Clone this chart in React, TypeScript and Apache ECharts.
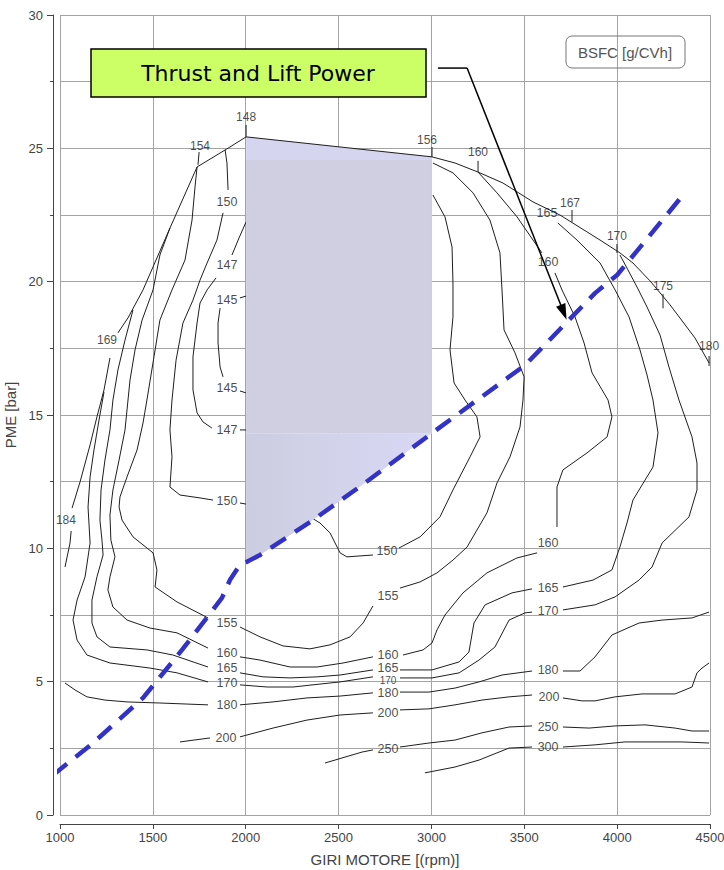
import React, { useEffect, useRef } from "react";
import * as echarts from "echarts";

// ---------- DATA (rpm, PME bar) ----------
// full-load envelope (split where point labels sit)
const envelope = [
  [[1027, 9.3], [1054, 10.2], [1060, 10.65]],
  [[1065, 11.51], [1108, 12.49], [1162, 13.88], [1199, 14.93], [1237, 15.94], [1269, 17.14]],
  [[1312, 18.08], [1366, 18.64], [1447, 19.69], [1592, 22.01], [1738, 24.3], [1899, 24.98], [2002, 25.43],
   [3003, 24.68], [3127, 24.45], [3251, 24.11], [3385, 23.7], [3547, 22.99], [3692, 22.5], [3908, 21.56],
   [4015, 21.08], [4085, 20.7], [4177, 20.03], [4285, 19.13], [4419, 17.89], [4495, 16.95]],
];
const fullLoadText = ["184", "169", "154", "148", "156", "160", "167", "170", "175", "180"];
const fullLoadPos = [[1032, 11.06], [1253, 17.81], [1754, 25.09], [2002, 26.18], [2976, 25.31], [3251, 24.86],
  [3746, 22.95], [3999, 21.71], [4247, 19.84], [4495, 17.59]];
const fullLoadTicks = [
  [[1743, 24.38], [1749, 24.86]], [[2002, 25.43], [2002, 25.88]], [[3003, 24.68], [3003, 25.05]],
  [[3251, 24.11], [3251, 24.53]], [[3757, 22.24], [3757, 22.69]], [[3999, 21.08], [3999, 21.41]],
  [[4247, 19.0], [4247, 19.54]], [[4495, 16.84], [4495, 17.21]],
];

const iso145 = [
  [[1969, 19.39], [2002, 19.46]],
  [[1862, 19.01], [1851, 18.45], [1851, 17.7], [1862, 16.8], [1878, 16.43]],
  [[1969, 15.9], [2002, 15.83]],
];
const lbl145 = [[1899, 19.31], [1899, 16.01]];

const iso147 = [
  [[1926, 21.0], [1964, 21.64], [2002, 22.24]],
  [[1840, 20.14], [1792, 19.69], [1754, 19.2], [1738, 18.45], [1716, 17.18], [1716, 15.94], [1738, 15.08], [1770, 14.74], [1818, 14.51]],
  [[1969, 14.44], [2002, 14.44]],
];
const lbl147 = [[1899, 20.63], [1899, 14.44]];

const iso150 = [
  [[1889, 24.94], [1899, 24.45], [1905, 23.44]],
  [[1878, 22.58], [1845, 21.56], [1792, 20.7], [1754, 20.06], [1716, 19.31], [1662, 18.45], [1625, 17.06], [1603, 15.56],
   [1592, 14.44], [1603, 13.43], [1592, 12.3], [1646, 12.0], [1754, 11.89], [1824, 11.81]],
  [[1969, 11.7], [2002, 11.66]],
  [[2346, 11.18], [2400, 10.95], [2454, 10.58], [2508, 9.83], [2545, 9.68], [2685, 9.75]],
  [[2825, 10.01], [2939, 10.43], [3046, 11.18], [3116, 12.19], [3208, 13.43], [3262, 14.18], [3245, 14.93], [3181, 15.56],
   [3122, 16.2], [3100, 17.44], [3116, 18.68], [3116, 19.95], [3111, 21.3], [3073, 22.43], [3008, 23.25]],
];
const lbl150 = [[1899, 22.99], [1899, 11.78], [2761, 9.9]];

const iso155 = [
  [[1738, 24.3], [1727, 23.55], [1711, 22.31], [1673, 20.81], [1603, 19.69], [1538, 18.56], [1506, 17.18], [1468, 15.56],
   [1447, 14.7], [1415, 13.69], [1361, 12.68], [1323, 11.93], [1318, 11.55], [1334, 11.06], [1393, 10.43], [1501, 9.83],
   [1522, 9.19], [1512, 8.55], [1630, 7.99], [1797, 7.39]],
  [[1969, 7.05], [2077, 6.68], [2201, 6.34], [2346, 6.23], [2454, 6.38], [2562, 6.68], [2632, 7.2], [2685, 7.84]],
  [[2831, 8.51], [2939, 8.74], [3030, 9.08], [3116, 9.56], [3192, 10.05], [3299, 11.33], [3353, 12.45], [3423, 13.43],
   [3477, 14.55], [3493, 15.56], [3499, 16.43], [3450, 17.33], [3391, 18.19], [3380, 19.69], [3369, 21.08], [3315, 22.31],
   [3224, 23.33], [3116, 24.08], [3008, 24.45]],
];
const lbl155 = [[1899, 7.2], [2766, 8.21]];

const iso160 = [
  [[1592, 22.01], [1538, 21.0], [1501, 19.69], [1442, 18.56], [1404, 17.44], [1377, 16.31], [1350, 14.44], [1318, 13.31],
   [1285, 12.19], [1269, 11.25], [1274, 10.31], [1296, 9.68], [1269, 8.93], [1258, 8.44], [1285, 7.8], [1361, 7.31],
   [1485, 7.01], [1630, 6.83], [1797, 6.26]],
  [[1969, 5.93], [2077, 5.81], [2239, 5.55], [2384, 5.55], [2524, 5.7], [2685, 5.93]],
  [[2847, 6.0], [2955, 6.19], [3003, 6.45], [3030, 6.94], [3073, 7.5], [3170, 8.33], [3299, 9.08], [3461, 9.64], [3569, 9.83]],
  [[3676, 10.8], [3676, 12.3], [3708, 12.94], [3838, 13.58], [3946, 14.18], [3972, 14.93], [3951, 15.56], [3919, 15.94],
   [3865, 16.58], [3822, 17.7], [3773, 18.68], [3703, 19.69], [3665, 20.33]],
  [[3595, 21.08], [3547, 21.56], [3461, 22.43], [3353, 23.33], [3251, 24.11]],
];
const lbl160 = [[1899, 6.08], [2766, 6.0], [3628, 10.2], [3628, 20.74]];

const iso165 = [
  [[1393, 18.94], [1350, 17.81], [1312, 16.69], [1285, 15.56], [1269, 14.44], [1242, 13.31], [1221, 12.19], [1215, 11.06],
   [1226, 10.31], [1232, 9.75], [1199, 8.93], [1172, 8.06], [1172, 7.2], [1199, 6.68], [1269, 6.3], [1468, 6.19],
   [1608, 6.0], [1797, 5.55]],
  [[1969, 5.33], [2093, 5.18], [2239, 5.14], [2384, 5.18], [2508, 5.25], [2685, 5.44]],
  [[2831, 5.44], [3003, 5.44], [3149, 5.74], [3202, 6.11], [3229, 7.2], [3289, 7.88], [3434, 8.33], [3542, 8.48]],
  [[3708, 8.55], [3870, 8.81], [3972, 9.19], [4015, 10.05], [4053, 10.95], [4085, 11.81], [4193, 13.05], [4220, 14.33],
   [4193, 15.56], [4161, 16.5], [4123, 17.44], [4064, 18.68], [3989, 19.69], [3908, 20.7], [3784, 21.56], [3681, 22.2]],
];
const lbl165 = [[1899, 5.51], [2766, 5.51], [3628, 8.51], [3622, 22.58]];

const iso170 = [
  [[1237, 15.86], [1210, 14.81], [1183, 13.69], [1162, 12.68], [1151, 11.55], [1162, 10.2], [1135, 8.93], [1092, 8.06],
   [1070, 7.31], [1092, 6.56], [1145, 6.0], [1269, 5.7], [1485, 5.51], [1630, 5.33], [1797, 4.99]],
  [[1969, 4.88], [2115, 4.8], [2255, 4.8], [2400, 4.91], [2508, 4.99], [2685, 5.18]],
  [[2831, 5.14], [3003, 5.14], [3149, 5.33], [3256, 5.81], [3342, 6.3], [3418, 7.31], [3504, 7.58], [3542, 7.61]],
  [[3708, 7.69], [3881, 7.88], [3989, 8.18], [4118, 8.81], [4188, 9.3], [4242, 10.2], [4387, 11.18], [4430, 12.19],
   [4430, 13.2], [4403, 14.18], [4333, 15.56], [4279, 16.8], [4231, 18.0], [4161, 19.05], [4107, 19.8], [4053, 20.51], [4015, 21.0]],
];
const lbl170 = [[1899, 4.95], [2766, 5.05], [3628, 7.65]];

const iso180 = [
  [[1027, 4.95], [1081, 4.69], [1145, 4.43], [1242, 4.31], [1361, 4.24], [1538, 4.2], [1797, 4.13]],
  [[1969, 4.13], [2147, 4.24], [2330, 4.39], [2508, 4.46], [2685, 4.58]],
  [[2831, 4.61], [2987, 4.61], [3127, 4.76], [3256, 4.99], [3380, 5.25], [3542, 5.4]],
  [[3708, 5.4], [3800, 5.4], [3881, 5.93], [3972, 6.75], [4118, 7.2], [4242, 7.31], [4403, 7.39], [4495, 7.61]],
];
const lbl180 = [[1899, 4.13], [2766, 4.58], [3628, 5.44]];

const iso200 = [
  [[1646, 2.74], [1808, 2.89]],
  [[1969, 2.93], [2147, 3.26], [2330, 3.56], [2508, 3.75], [2685, 3.83]],
  [[2831, 3.94], [2987, 3.98], [3127, 4.13], [3272, 4.31], [3418, 4.43], [3542, 4.5]],
  [[3708, 4.39], [3811, 4.28], [3881, 4.28], [3989, 4.43], [4134, 4.54], [4312, 4.54], [4403, 4.8], [4430, 5.33], [4457, 5.51], [4495, 5.7]],
];
const lbl200 = [[1894, 2.89], [2766, 3.83], [3633, 4.43]];

const iso250 = [
  [[2427, 1.95], [2626, 2.36], [2685, 2.44]],
  [[2831, 2.55], [2987, 2.7], [3127, 2.81], [3272, 3.08], [3418, 3.3], [3542, 3.34]],
  [[3708, 3.3], [3849, 3.26], [3989, 3.34], [4150, 3.38], [4312, 3.26], [4403, 3.15], [4495, 3.15]],
];
const lbl250 = [[2766, 2.48], [3628, 3.3]];

const iso300 = [
  [[2965, 1.58], [3127, 1.8], [3256, 2.06], [3418, 2.51], [3542, 2.55]],
  [[3708, 2.55], [3881, 2.63], [4042, 2.74], [4349, 2.74], [4495, 2.7]],
];
const lbl300 = [[3628, 2.55]];

// propeller / operating line (dashed)
const propeller = [[962, 1.5], [1178, 2.7], [1447, 4.39], [1657, 6.19], [1872, 8.14], [1915, 8.81], [1969, 9.38],
  [2002, 9.48], [2077, 9.75], [2362, 11.06], [2626, 12.37], [3003, 14.32], [3504, 16.87], [3881, 19.57], [4000, 20.25], [4355, 23.25]];

// shaded "Thrust and Lift Power" zone
const shadeTop = [[2002, 25.43], [3003, 24.68], [3003, 24.56], [2002, 24.56]];
const shadeMid = [[2002, 24.56], [3003, 24.56], [3003, 14.32], [2002, 14.32]];
const shadeLow = [[2002, 14.32], [3003, 14.32], [2626, 12.37], [2362, 11.06], [2077, 9.75], [2002, 9.48]];

// annotation leader
const leader = [[3035, 28.01], [3192, 28.01]];
const arrowEnd = [3712, 18.85];

const contours: [string, number[][][], number[][]][] = [
  ["145", iso145, lbl145], ["147", iso147, lbl147], ["150", iso150, lbl150], ["155", iso155, lbl155],
  ["160", iso160, lbl160], ["165", iso165, lbl165], ["170", iso170, lbl170], ["180", iso180, lbl180],
  ["200", iso200, lbl200], ["250", iso250, lbl250], ["300", iso300, lbl300],
];

const FONT = "Liberation Sans";

export default function App() {
  const ref = useRef<HTMLDivElement>(null);
  useEffect(() => {
    document.body.style.margin = "0";
    const chart = echarts.init(ref.current!, null, { renderer: "svg" });
    const series: any[] = [];
    const lineStyleC = { color: "#1e1e1e", width: 1 };
    const addSeg = (seg: number[][], z: number, ls: any) =>
      series.push({ type: "line", data: seg, symbol: "none", silent: true, z, clip: false, lineStyle: ls });

    // shading
    series.push({
      type: "custom",
      z: 3,
      silent: true,
      data: [[2500, 20]],
      renderItem: (_p: any, api: any) => {
        const pts = (arr: number[][]) => arr.map((p) => api.coord(p));
        return {
          type: "group",
          children: [
            {
              type: "polygon",
              shape: { points: pts(shadeLow) },
              style: {
                fill: new echarts.graphic.LinearGradient(0, 0, 1, 0, [
                  { offset: 0, color: "#cdcde0" },
                  { offset: 1, color: "#d8d8f6" },
                ]),
              },
            },
            { type: "polygon", shape: { points: pts(shadeMid) }, style: { fill: "#cfcfe1" } },
            { type: "polygon", shape: { points: pts(shadeTop) }, style: { fill: "#d5d5f0" } },
          ],
        };
      },
    });

    const labelData: any[] = [];
    contours.forEach(([name, segs, lbls]) => {
      segs.forEach((s) => addSeg(s, 2, lineStyleC));
      lbls.forEach((p) => {
        // the middle-column 170 label is squeezed between the 165 and 180 lines
        const squeezed = name === "170" && p[0] === 2766;
        labelData.push(squeezed
          ? { value: p, name, label: { fontSize: 10, lineHeight: 10 } }
          : { value: p, name });
      });
    });
    envelope.forEach((s) => addSeg(s, 4, lineStyleC));
    fullLoadTicks.forEach((s) => addSeg(s, 4, lineStyleC));

    const lblStyle = {
      show: true, position: "inside", formatter: "{b}", color: "#1a1a1a", fontFamily: FONT,
      textBorderWidth: 0, textBorderColor: "transparent", textShadowBlur: 0,
    };
    series.push({
      type: "scatter",
      z: 6,
      silent: true,
      symbolSize: 1,
      itemStyle: { color: "rgba(255,255,255,0)" },
      data: labelData,
      label: { ...lblStyle, fontSize: 12.5, lineHeight: 12 },
    });
    series.push({
      type: "scatter",
      z: 6,
      silent: true,
      symbolSize: 1,
      itemStyle: { color: "rgba(255,255,255,0)" },
      data: fullLoadPos.map((p, i) => ({ value: p, name: fullLoadText[i] })),
      label: { ...lblStyle, fontSize: 12, lineHeight: 12 },
    });

    // dashed operating line
    series.push({
      type: "line",
      data: propeller,
      symbol: "none",
      silent: true,
      z: 7,
      clip: false,
      lineStyle: { color: "#3232c8", width: 4.5, type: [18, 11] },
    });

    // annotation arrow
    series.push({
      type: "line",
      data: leader,
      symbol: "none",
      silent: true,
      z: 8,
      clip: false,
      lineStyle: { color: "#000", width: 1.5 },
      markLine: {
        silent: true,
        symbol: ["none", "triangle"],
        symbolSize: [10, 16],
        label: { show: false },
        lineStyle: { color: "#000", width: 1.5, type: "solid" },
        data: [[{ coord: leader[1] }, { coord: arrowEnd }]],
      },
    });

    const axisText = { color: "#444", fontFamily: FONT };
    chart.setOption({
      animation: false,
      backgroundColor: "#fff",
      grid: { left: 60, right: 14, top: 15, bottom: 55, containLabel: false, outerBoundsMode: "none" },
      xAxis: {
        type: "value",
        min: 1000,
        max: 4500,
        interval: 500,
        offset: 9,
        name: "GIRI MOTORE [(rpm)]",
        nameLocation: "middle",
        nameGap: 28,
        nameTextStyle: { ...axisText, fontSize: 15 },
        axisLine: { show: true, onZero: false, lineStyle: { color: "#444", width: 1 } },
        axisTick: { show: true, length: 5, lineStyle: { color: "#444" } },
        axisLabel: { ...axisText, fontSize: 13, margin: 7, formatter: (v: number) => String(v) },
        splitLine: { show: true, lineStyle: { color: "#a3a3a3", width: 1 } },
      },
      yAxis: {
        type: "value",
        min: 0,
        max: 30,
        interval: 5,
        offset: 7,
        name: "PME [bar]",
        nameLocation: "middle",
        nameGap: 23,
        nameTextStyle: { ...axisText, fontSize: 15 },
        axisLine: { show: true, lineStyle: { color: "#444", width: 1 } },
        axisTick: { show: true, length: 6, lineStyle: { color: "#444" } },
        minorTick: { show: true, splitNumber: 2, length: 3, lineStyle: { color: "#444" } },
        axisLabel: { ...axisText, fontSize: 13, margin: 10, formatter: (v: number) => String(v) },
        splitLine: { show: true, lineStyle: { color: "#a3a3a3", width: 1 } },
        minorSplitLine: { show: true, lineStyle: { color: "#a3a3a3", width: 1 } },
      },
      graphic: [
        { type: "rect", z: 100, shape: { x: 91, y: 49, width: 335, height: 48 }, style: { fill: "#ccff66", stroke: "#000", lineWidth: 1.5 } },
        {
          type: "text", z: 101, x: 258, y: 73,
          style: { text: "Thrust and Lift Power", fill: "#000", font: '22px "DejaVu Sans"', textAlign: "center", textVerticalAlign: "middle", align: "center", verticalAlign: "middle" },
        },
        { type: "rect", z: 100, shape: { x: 566, y: 36, width: 119, height: 32, r: 6 }, style: { fill: "none", stroke: "#777", lineWidth: 1 } },
        {
          type: "text", z: 101, x: 625, y: 52,
          style: { text: "BSFC [g/CVh]", fill: "#555", font: '15px "Liberation Sans"', textAlign: "center", textVerticalAlign: "middle", align: "center", verticalAlign: "middle" },
        },
      ],
      series,
    });
    return () => chart.dispose();
  }, []);
  return <div ref={ref} style={{ width: 724, height: 870 }} />;
}
